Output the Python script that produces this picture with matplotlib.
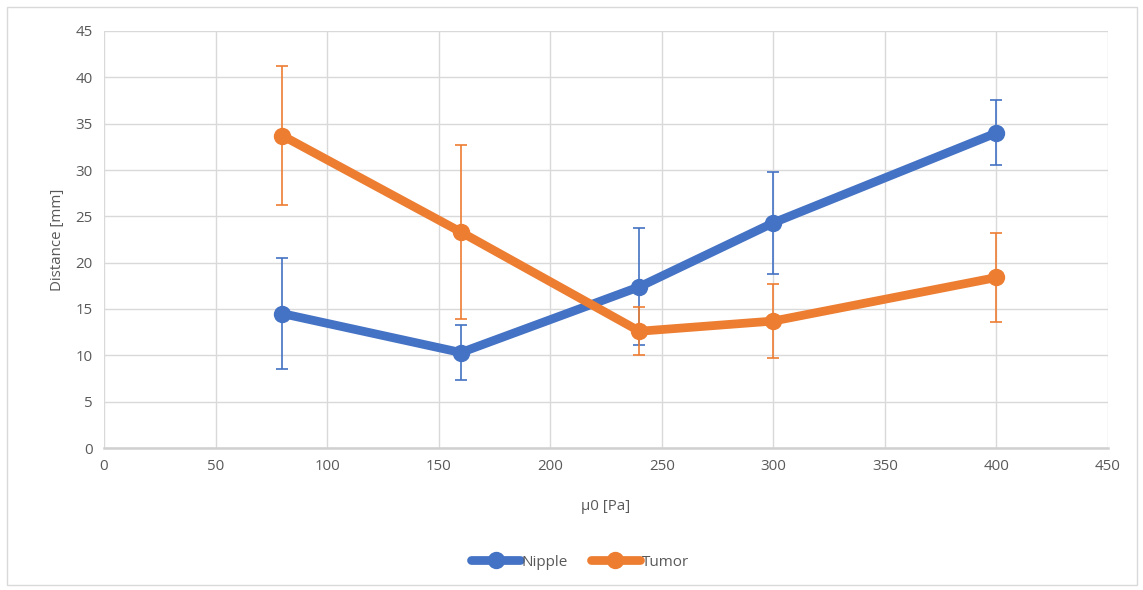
import numpy as np
import matplotlib.pyplot as plt
from matplotlib.patches import Rectangle

# data
mu0 = [80, 160, 240, 300, 400]
nipple = [14.5, 10.3, 17.4, 24.3, 34.0]
nipple_err = [6.0, 3.0, 6.3, 5.5, 3.5]
tumor = [33.7, 23.3, 12.6, 13.7, 18.4]
tumor_err = [7.5, 9.4, 2.6, 4.0, 4.8]

blue = '#4472C4'
orange = '#ED7D31'
grey = '#595959'

plt.rcParams['font.family'] = ['Open Sans', 'DejaVu Sans']

fig = plt.figure(figsize=(11.43, 5.9), dpi=100)
ax = fig.add_axes([104 / 1143, 1 - 448 / 590, 1004 / 1143, 417 / 590])

fig.patches.append(Rectangle((7 / 1143, 5 / 590), 1130 / 1143, 578 / 590,
                             transform=fig.transFigure, fill=False,
                             edgecolor='#d9d9d9', linewidth=1))

for y, err, c, name in [(nipple, nipple_err, blue, 'Nipple'), (tumor, tumor_err, orange, 'Tumor')]:
    ax.errorbar(mu0, y, yerr=err, fmt='none', ecolor=c, elinewidth=1.2,
                capsize=4.5, capthick=1.2, zorder=3)
    ax.plot(mu0, y, color=c, linewidth=6.3, marker='o', markersize=11.5,
            label=name, zorder=4, solid_capstyle='round')

ax.set_xlim(0, 450)
ax.set_ylim(0, 45)
ax.set_xticks(np.arange(0, 451, 50))
ax.set_yticks(np.arange(0, 46, 5))
ax.grid(True, color='#d9d9d9', linewidth=1)
ax.set_axisbelow(True)
for s in ['top', 'right', 'left']:
    ax.spines[s].set_visible(False)
ax.spines['bottom'].set_color('#d0d0d0')
ax.spines['bottom'].set_linewidth(1.8)
ax.tick_params(length=0, colors=grey, labelsize=10.8, pad=8)
ax.set_xlabel('µ0 [Pa]', color=grey, fontsize=10.8, labelpad=18)
ax.set_ylabel('Distance [mm]', color=grey, fontsize=10.8, labelpad=8)

leg = fig.legend(loc='center', bbox_to_anchor=(580 / 1143, 1 - 562 / 590), ncol=2,
                 frameon=False, fontsize=11, labelcolor=grey, handlelength=3.2,
                 handletextpad=0.1, columnspacing=1.5)

fig.savefig('out.png', dpi=100)
